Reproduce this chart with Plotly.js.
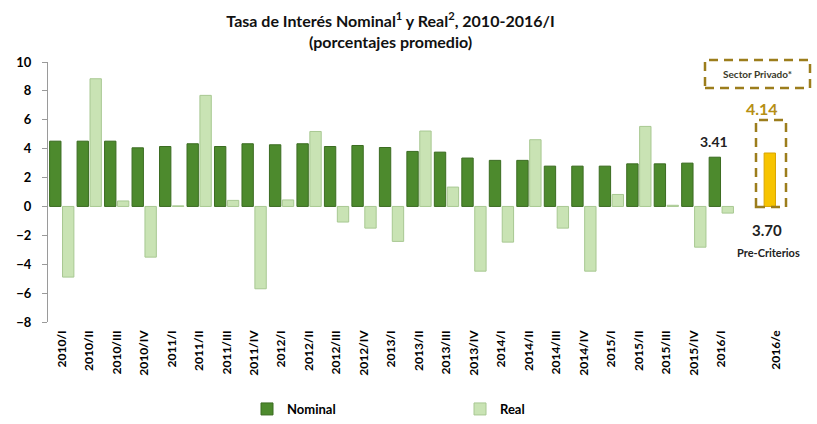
<!DOCTYPE html>
<html>
<head>
<meta charset="utf-8">
<script src="https://cdn.plot.ly/plotly-3.0.1.min.js"></script>
<style>html,body{margin:0;padding:0;background:#fff;}#chart{width:817px;height:424px;}</style>
</head>
<body>
<div id="chart"></div>
<script>
const categories = ['2010/I','2010/II','2010/III','2010/IV','2011/I','2011/II','2011/III','2011/IV',
  '2012/I','2012/II','2012/III','2012/IV','2013/I','2013/II','2013/III','2013/IV',
  '2014/I','2014/II','2014/III','2014/IV','2015/I','2015/II','2015/III','2015/IV','2016/I','','2016/e'];
const nominal = [4.52,4.52,4.52,4.06,4.15,4.34,4.15,4.34,4.27,4.34,4.15,4.22,4.08,3.81,3.76,3.35,
  3.19,3.19,2.79,2.79,2.79,2.95,2.95,3.00,3.41,null,3.70];
const real = [-4.89,8.84,0.38,-3.51,0.04,7.69,0.42,-5.70,0.45,5.19,-1.08,-1.50,-2.42,5.22,1.34,-4.48,
  -2.47,4.62,-1.50,-4.48,0.83,5.54,0.08,-2.82,-0.46,null,null];
const estimateLabel = '2016/e';
const lastQuarterValue = 3.41;
const privateSectorValue = 4.14;
const preCriteriosValue = 3.70;
const yTicks = [-8,-6,-4,-2,0,2,4,6,8,10];

const xPos = categories.map((c, i) => i);
const estIdx = categories.indexOf(estimateLabel);
const nomColors = categories.map((c, i) => i === estIdx ? '#f7c400' : '#4d8a2d');
const nomLines = categories.map((c, i) => i === estIdx ? '#d9a400' : '#3b6c21');

// pixel -> paper helpers (plot area: x 48..790, y 62..322)
const L = 48, R = 790, T = 62, B = 322;
const PX = p => (p - L) / (R - L);
const PY = p => (B - p) / (B - T);

const FONT = 'Lato, "Open Sans", "DejaVu Sans", sans-serif';
const gold = '#9c7d1c';

const traces = [
  {type:'bar', name:'Nominal', x:xPos, y:nominal,
   marker:{color:nomColors, line:{color:nomLines, width:1}}, hoverinfo:'x+y'},
  {type:'bar', name:'Real', x:xPos, y:real,
   marker:{color:'#c9e3b4', line:{color:'#a8c892', width:1}}, hoverinfo:'x+y'}
];

const ann = (x, y, text, size, color) => ({xref:'paper', yref:'paper', x:PX(x), y:PY(y),
  xanchor:'center', yanchor:'middle', text:text, showarrow:false,
  font:{family:FONT, size:size, weight:'bold', color:color}});

const layout = {
  width:817, height:424,
  margin:{l:L, r:817-R, t:T, b:424-B, pad:0, autoexpand:false},
  paper_bgcolor:'#ffffff', plot_bgcolor:'#ffffff',
  font:{family:FONT, color:'#000'},
  title:{text:'Tasa de Interés Nominal<sup>1</sup> y Real<sup>2</sup>, 2010-2016/I<br>(porcentajes promedio)',
    x:0.478, xanchor:'center', yref:'container', y:1 - 27/424, yanchor:'middle',
    font:{family:FONT, size:16, weight:'bold', color:'#111'}},
  barmode:'group', bargap:0.06, bargroupgap:0.12,
  showlegend:true,
  legend:{orientation:'h', x:PX(247), xanchor:'left', y:PY(409), yanchor:'middle',
    entrywidth:168, entrywidthmode:'pixels', itemwidth:30,
    font:{family:FONT, size:13, weight:'bold', color:'#000'}, bgcolor:'rgba(0,0,0,0)'},
  xaxis:{range:[-0.5, categories.length-0.5], tickvals:xPos, ticktext:categories,
    tickangle:-90, ticks:'', showgrid:false, zeroline:false, showline:false,
    ticklabelstandoff:5, automargin:false,
    tickfont:{family:FONT, size:12, weight:'bold', color:'#000'}},
  yaxis:{range:[-8,10], tickvals:yTicks, ticks:'outside', ticklen:5, tickcolor:'#9a9a9a',
    showline:true, linecolor:'#9a9a9a', linewidth:1, showgrid:false, zeroline:false,
    ticklabelstandoff:8, automargin:false,
    tickfont:{family:FONT, size:13, weight:'bold', color:'#000'}},
  shapes:[
    {type:'rect', xref:'paper', yref:'paper', x0:PX(705), x1:PX(810), y0:PY(88), y1:PY(60),
     line:{color:gold, width:2.5, dash:'9px,6px'}, fillcolor:'rgba(0,0,0,0)'},
    {type:'rect', xref:'paper', yref:'paper', x0:PX(756), x1:PX(786), y0:PY(207), y1:PY(120),
     line:{color:gold, width:2.5, dash:'9px,6px'}, fillcolor:'rgba(0,0,0,0)'}
  ],
  annotations:[
    {xref:'x', yref:'y', x:xPos[24]-0.25, y:nominal[24], xanchor:'center', yanchor:'bottom', yshift:5,
     text:lastQuarterValue.toFixed(2), showarrow:false,
     font:{family:FONT, size:14, weight:'bold', color:'#222'}},
    ann(757, 74, 'Sector Privado*', 10, '#3a3a2a'),
    ann(762, 108, privateSectorValue.toFixed(2), 16, '#b68f14'),
    ann(767, 230, preCriteriosValue.toFixed(2), 15, '#222'),
    ann(768, 252, 'Pre-Criterios', 11, '#222')
  ]
};

Plotly.newPlot('chart', traces, layout, {displayModeBar:false, staticPlot:true});
</script>
</body>
</html>
